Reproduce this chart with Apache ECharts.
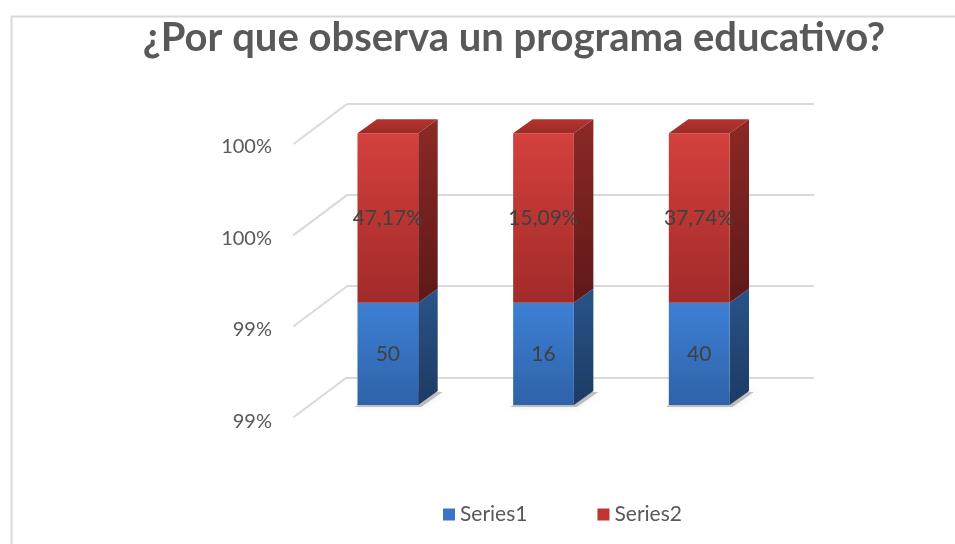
<!DOCTYPE html>
<html lang="es">
<head>
    <meta charset="UTF-8">
    <title>Programa educativo</title>
    <script src="https://cdn.jsdelivr.net/npm/echarts@6/dist/echarts.min.js"></script>
    <style>
        html, body { margin: 0; padding: 0; background: #fff; }
    </style>
</head>
<body>
    <div id="main" style="width: 955px;height:544px;"></div>
    <script>
        // datos
        var categories = ['1', '2', '3'];
        var series1Values = [50, 16, 40];
        var series2Values = [0.4717, 0.1509, 0.3774];
        // altura visible de cada tramo en unidades del eje (el eje recorta las barras)
        var series1Height = [1.13, 1.13, 1.13];
        var series2Height = [1.87, 1.87, 1.87];
        var axisTickLabels = ['99%', '99%', '100%', '100%'];
        var axisTicks = [0, 1, 2, 3];

        var FONT = 'Lato';
        var DX = 19.5, DY = -14;   // profundidad de las barras

        function pct(v) {
            return (v * 100).toFixed(2).replace('.', ',') + '%';
        }

        function grad(a, b) {
            return new echarts.graphic.LinearGradient(0, 0, 0, 1, [
                { offset: 0, color: a }, { offset: 1, color: b }
            ]);
        }

        var palette = {
            blue: { front: ['#3d80d4', '#2f62a9'], side: ['#29548a', '#1d3a62'], top: ['#4a86d0', '#3569ad'] },
            red: { front: ['#d4403d', '#a12b29'], side: ['#8c2926', '#5e1918'], top: ['#b5342f', '#9c2a26'] }
        };

        function makeBar(colors, isTop) {
            return function (params, api) {
                var i = api.value(0);
                var lo = api.coord([i, api.value(1)]);
                var hi = api.coord([i, api.value(2)]);
                var w = api.size([1, 0])[0] * 0.39;
                var x0 = lo[0] - w / 2, x1 = lo[0] + w / 2;
                var yb = lo[1], yt = hi[1];
                var kids = [];
                if (!isTop) {
                    // sombra suave bajo la barra
                    kids.push({
                        type: 'polygon',
                        shape: { points: [[x0 - 3, yb + 2], [x1 + 3, yb + 2], [x1 + DX + 5, yb + DY + 1], [x0 + DX, yb + DY + 1]] },
                        style: { fill: 'rgba(0,0,0,0.22)', shadowBlur: 6, shadowColor: 'rgba(0,0,0,0.35)' }
                    });
                }
                kids.push(
                    {
                        type: 'polygon',
                        shape: { points: [[x1, yb], [x1 + DX, yb + DY], [x1 + DX, yt + DY], [x1, yt]] },
                        style: { fill: grad(colors.side[0], colors.side[1]) }
                    },
                    {
                        type: 'rect',
                        shape: { x: x0, y: yt, width: w, height: yb - yt },
                        style: { fill: grad(colors.front[0], colors.front[1]) }
                    },
                    {
                        type: 'text',
                        style: {
                            x: (x0 + x1) / 2, y: (yt + yb) / 2,
                            text: isTop ? pct(series2Values[i]) : String(series1Values[i]),
                            align: 'center', verticalAlign: 'middle',
                            fontFamily: FONT, fontSize: 21, fill: '#404040'
                        }
                    }
                );
                if (isTop) {
                    kids.push({
                        type: 'polygon',
                        shape: { points: [[x0, yt], [x0 + DX, yt + DY], [x1 + DX, yt + DY], [x1, yt]] },
                        style: { fill: grad(colors.top[0], colors.top[1]) }
                    });
                }
                return { type: 'group', children: kids };
            };
        }

        var s1Data = categories.map(function (c, i) { return [i, 0, series1Height[i]]; });
        var s2Data = categories.map(function (c, i) {
            return [i, series1Height[i], series1Height[i] + series2Height[i]];
        });

        var myChart = echarts.init(document.getElementById('main'));
        myChart.setOption({
            animation: false,
            title: {
                text: '¿Por que observa un programa educativo?',
                left: 509, top: 13, textAlign: 'center',
                textStyle: { fontFamily: FONT, fontWeight: 'bold', fontSize: 40, color: '#595959' }
            },
            graphic: [{
                type: 'rect', left: 9, top: 14, z: -10,
                shape: { width: 1000, height: 600 },
                style: { fill: 'none', stroke: '#d9d9d9', lineWidth: 2 }
            }],
            legend: {
                data: ['Series1', 'Series2'],
                left: 438, top: 499,
                icon: 'rect', itemWidth: 12, itemHeight: 12, itemGap: 70,
                textStyle: { fontFamily: FONT, fontSize: 21, color: '#595959' }
            },
            grid: [
                { left: 347, top: 104, width: 467, height: 273.3 },   // pared del fondo
                { left: 310, top: 133.3, width: 467, height: 271.7 }, // plano de las barras
                { left: 293, top: 146.7, width: 10, height: 275 }     // plano frontal (etiquetas)
            ],
            xAxis: [0, 1, 2].map(function (g) {
                return { type: 'category', gridIndex: g, data: categories, show: false };
            }),
            yAxis: [0, 1, 2].map(function (g) {
                return {
                    type: 'value', gridIndex: g, min: 0, max: 3, interval: 1,
                    axisLine: { show: false }, axisTick: { show: false },
                    splitLine: { show: g === 0, lineStyle: { color: '#d9d9d9', width: 2 } },
                    axisLabel: {
                        show: g === 2, margin: 21,
                        fontFamily: FONT, fontSize: 20, color: '#595959',
                        formatter: function (v) { return axisTickLabels[axisTicks.indexOf(v)]; }
                    }
                };
            }),
            series: [
                {
                    type: 'custom', name: 'walls', xAxisIndex: 0, yAxisIndex: 0, silent: true,
                    data: axisTicks.map(function (t) { return [0, t]; }),
                    renderItem: function (params, api) {
                        var p = api.coord([0, api.value(1)]);
                        var x = params.coordSys.x;
                        return {
                            type: 'line',
                            shape: { x1: x, y1: p[1], x2: x - 53.5, y2: p[1] + 40 },
                            style: { stroke: '#d9d9d9', lineWidth: 2 }
                        };
                    }
                },
                {
                    type: 'custom', name: 'Series1', xAxisIndex: 1, yAxisIndex: 1,
                    itemStyle: { color: '#3a74c2' },
                    data: s1Data, renderItem: makeBar(palette.blue, false)
                },
                {
                    type: 'custom', name: 'Series2', xAxisIndex: 1, yAxisIndex: 1,
                    itemStyle: { color: '#c0372f' },
                    data: s2Data, renderItem: makeBar(palette.red, true)
                }
            ]
        });
    </script>
</body>
</html>
